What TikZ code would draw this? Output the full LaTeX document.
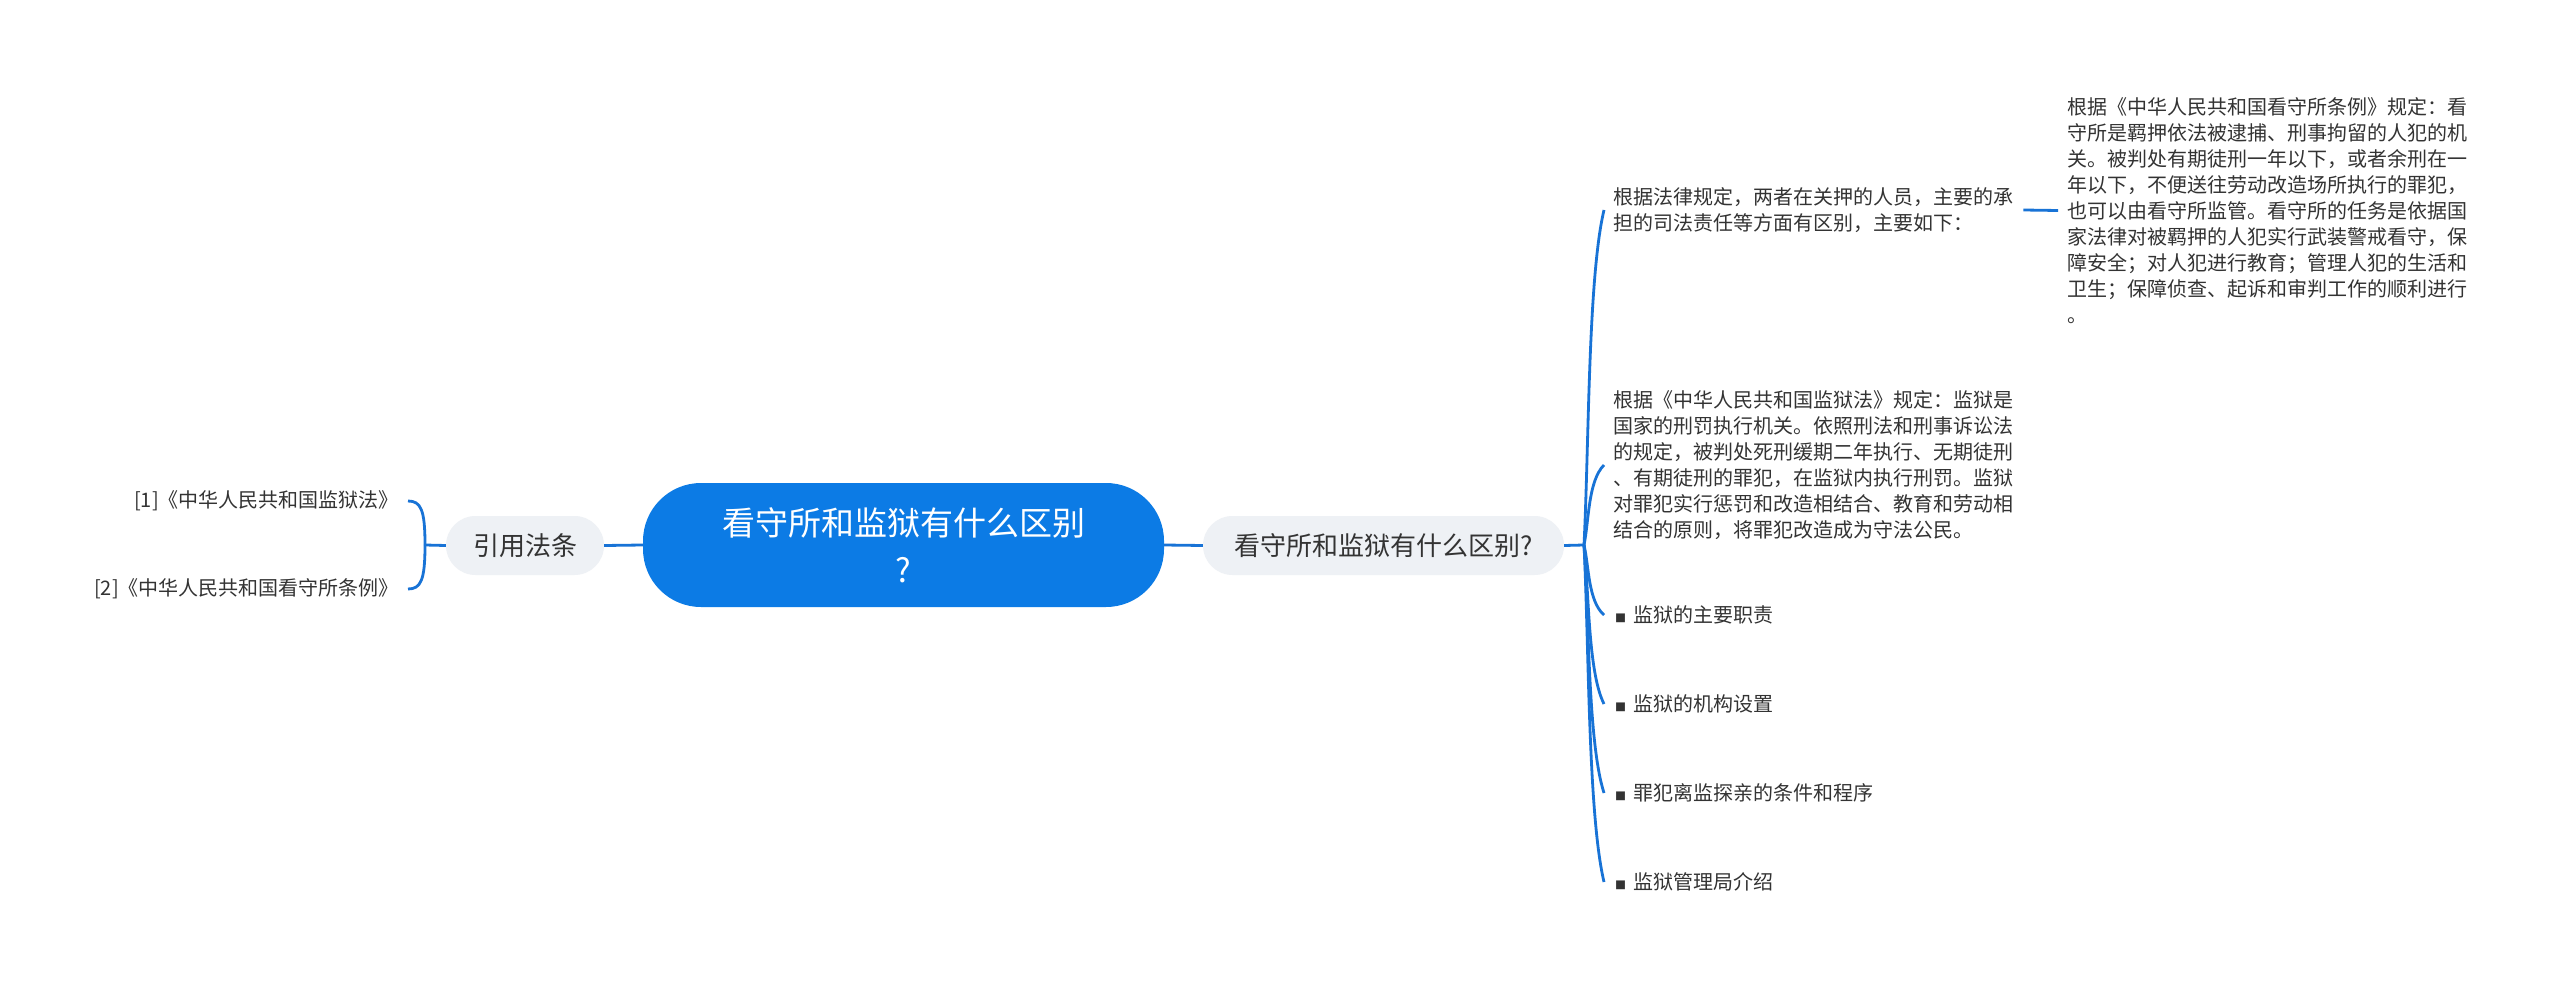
\documentclass[tikz,border=0pt]{standalone}
\usepackage{fontspec}
\setmainfont{Noto Sans CJK SC}
\definecolor{rootblue}{HTML}{0C7BE5}
\definecolor{lineblue}{HTML}{1873D6}
\definecolor{pillgray}{HTML}{EEF1F5}
\definecolor{txtdark}{HTML}{333333}
\tikzset{
  conn/.style={draw=lineblue, line width=2.8pt},
  rootbox/.style={fill=rootblue, text=white, rounded corners=58pt, minimum width=521pt, minimum height=124pt, align=center, inner sep=0pt, font=\fontsize{33}{47}\selectfont},
  pill/.style={fill=pillgray, text=txtdark, rounded corners=29.5pt, minimum height=59pt, inner sep=0pt, font=\fontsize{26}{30}\selectfont},
  leaf/.style={text=txtdark, align=left, inner sep=0pt, font=\fontsize{20}{26}\selectfont},
  refleaf/.style={text=txtdark, align=right, inner sep=0pt, font=\fontsize{20}{26}\selectfont},
}
\newcommand{\bul}{{\fontsize{11}{11}\selectfont ■}\hspace{7pt}}
\begin{document}
\begin{tikzpicture}[x=1pt, y=-1pt]
\useasboundingbox (0,0) rectangle (2560,987);
\fill[white] (0,0) rectangle (2560,987);

% main nodes
\node[rootbox] (root) at (903.5,545) {看守所和监狱有什么区别\\?};
\node[pill, minimum width=361pt] (mid) at (1383.5,545.5) {看守所和监狱有什么区别?};
\node[pill, minimum width=158pt] (yy) at (525,545.5) {引用法条};

% left leaves
\node[refleaf, anchor=east] (r1) at (399,501) {[1]《中华人民共和国监狱法》};
\node[refleaf, anchor=east] (r2) at (399,589) {[2]《中华人民共和国看守所条例》};

% right leaves
\node[leaf, anchor=west] (l1) at (1613,210) {根据法律规定，两者在关押的人员，主要的承\\担的司法责任等方面有区别，主要如下：};
\node[leaf, anchor=west] (l2) at (1613,465) {根据《中华人民共和国监狱法》规定：监狱是\\国家的刑罚执行机关。依照刑法和刑事诉讼法\\的规定，被判处死刑缓期二年执行、无期徒刑\\、有期徒刑的罪犯，在监狱内执行刑罚。监狱\\对罪犯实行惩罚和改造相结合、教育和劳动相\\结合的原则，将罪犯改造成为守法公民。};
\node[leaf, anchor=west] (l3) at (1615,615) {\bul 监狱的主要职责};
\node[leaf, anchor=west] (l4) at (1615,704) {\bul 监狱的机构设置};
\node[leaf, anchor=west] (l5) at (1615,793) {\bul 罪犯离监探亲的条件和程序};
\node[leaf, anchor=west] (l6) at (1615,882) {\bul 监狱管理局介绍};

\node[leaf, anchor=west] (sub) at (2067,210.5) {根据《中华人民共和国看守所条例》规定：看\\守所是羁押依法被逮捕、刑事拘留的人犯的机\\关。被判处有期徒刑一年以下，或者余刑在一\\年以下，不便送往劳动改造场所执行的罪犯，\\也可以由看守所监管。看守所的任务是依据国\\家法律对被羁押的人犯实行武装警戒看守，保\\障安全；对人犯进行教育；管理人犯的生活和\\卫生；保障侦查、起诉和审判工作的顺利进行\\。};

% connectors
\draw[conn] (root.west) -- (yy.east);
\draw[conn] (root.east) -- (mid.west);

\coordinate (JL) at (425,545);
\draw[conn] (yy.west) -- (JL);
\draw[conn] (JL) .. controls (425,510) and (421,501) .. ([xshift=9pt]r1.east);
\draw[conn] (JL) .. controls (425,580) and (421,589) .. ([xshift=9pt]r2.east);

\coordinate (JR) at (1584,545);
\draw[conn] (mid.east) -- (JR);
\draw[conn] (JR) .. controls (1589,444.5) and (1588,277) .. ([xshift=-9pt]l1.west);
\draw[conn] (JR) .. controls (1589,521) and (1588,481) .. ([xshift=-9pt]l2.west);
\draw[conn] (JR) .. controls (1589,566) and (1588,601) .. ([xshift=-11pt]l3.west);
\draw[conn] (JR) .. controls (1589,592.7) and (1588,672.2) .. ([xshift=-11pt]l4.west);
\draw[conn] (JR) .. controls (1589,619.4) and (1588,743.4) .. ([xshift=-11pt]l5.west);
\draw[conn] (JR) .. controls (1589,646.1) and (1588,814.6) .. ([xshift=-11pt]l6.west);

\draw[conn] ([xshift=10pt]l1.east) -- ([xshift=-9pt]sub.west);
\end{tikzpicture}
\end{document}
